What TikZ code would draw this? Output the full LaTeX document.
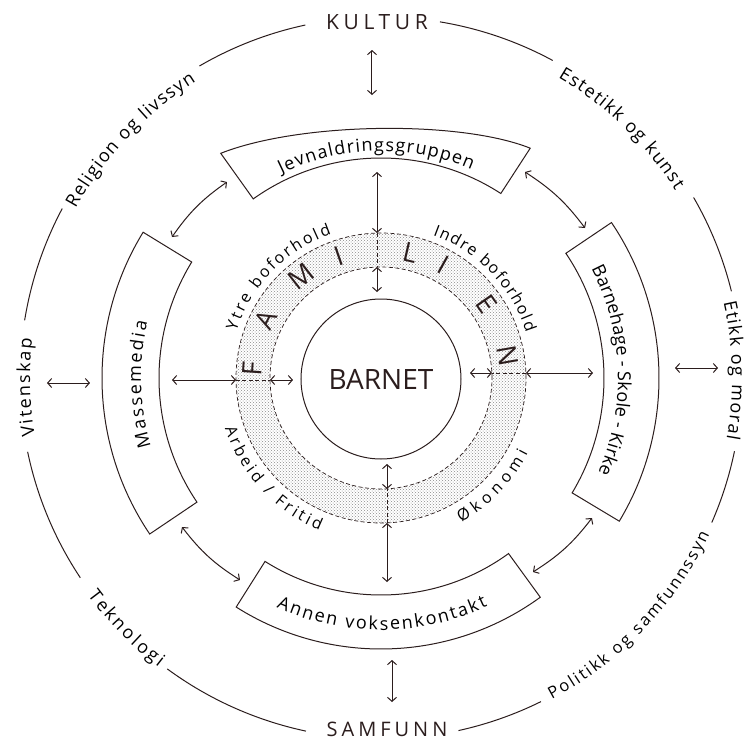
\documentclass[tikz,border=0pt]{standalone}
\usepackage{fontspec}
\setmainfont{Open Sans}
\usetikzlibrary{arrows.meta}
\usetikzlibrary{patterns}
\usetikzlibrary{decorations.text}
\definecolor{blekk}{HTML}{2B1D1D}
\definecolor{prikk}{HTML}{8A8A8A}
\newcommand{\ytrefont}{\fontsize{18}{21}\selectfont}
\newcommand{\boksfont}{\fontsize{18}{21}\selectfont}
\newcommand{\ringfont}{\fontsize{16}{19}\selectfont}
\newcommand{\buetekst}[5]{% radius, fra, til, skrift, tekst
  \path[decorate,decoration={text along path,text align=fit to path,text={|#4|#5}}]
    (#2:#1pt) arc[start angle=#2,end angle=#3,radius=#1pt];}

\begin{document}
\begin{tikzpicture}[x=1pt,y=1pt,line width=1pt,color=blekk,
    pil/.style={<->,>={Straight Barb[length=4pt,width=9pt]}},
    ring/.style={dashed,line width=0.7pt,dash pattern=on 4pt off 2.5pt}]
  \useasboundingbox (-381,-362) rectangle (374,378);

  % ytre sirkel, brutt ved tekstene
  \foreach \a/\b in {61.6/80.6, 13.9/30, -23.6/-11.7, 282.4/296.3, 233.7/258, 191.8/213.6, 152/170.8, 102.1/120.2}
  {
    \draw (\a:361pt) arc[start angle=\a,end angle=\b,radius=361pt];
  }
  \node[font=\fontsize{21}{21}\selectfont\addfontfeature{LetterSpace=22}] (kultur) at (-4,356) {KULTUR};
  \node[font=\fontsize{20}{20}\selectfont\addfontfeature{LetterSpace=20}] (samfunn) at (6,-351) {SAMFUNN};
  \buetekst{349}{151}{122}{\ytrefont}{Religion og livssyn}
  \buetekst{349}{59.5}{32.5}{\ytrefont}{Estetikk og kunst}
  \buetekst{351}{12.5}{-10}{\ytrefont}{Etikk og moral}
  \buetekst{351}{189.5}{173.5}{\ytrefont}{Vitenskap}
  \buetekst{365}{216.5}{232.5}{\ytrefont}{Teknologi}
  \buetekst{364}{298}{334.5}{\fontsize{16.5}{20}\selectfont}{Politikk og samfunnssyn}

  % boksene i midtringen
  \foreach \a/\b/\ri/\ro in {148.5/214/222/279, -31/34/223/278, 237.7/306/217/271}
  {
    \draw (\a:\ri pt) arc[start angle=\a,end angle=\b,radius=\ri pt] -- (\b:\ro pt)
      arc[start angle=\b,end angle=\a,radius=\ro pt] -- cycle;
  }
  \draw (125.5:220pt) arc[start angle=125.5,end angle=57,radius=220pt] -- (57:274pt)
    .. controls (79,258) and (-81,256) .. (125.5:276pt) -- cycle;  % Jevnaldringsgruppen
  \buetekst{227}{116}{66.5}{\boksfont}{Jevnaldringsgruppen}
  \buetekst{240}{196.5}{166.5}{\boksfont}{Massemedia}
  \buetekst{237}{27.5}{-23.5}{\boksfont}{Barnehage - Skole - Kirke}
  \buetekst{252}{245.5}{295}{\boksfont}{Annen voksenkontakt}

  % familien
  \fill[pattern=crosshatch dots,pattern color=prikk,even odd rule]
    (0,0) circle[radius=145pt] (0,0) circle[radius=111pt];
  \draw[ring] (0,0) circle[radius=145pt];
  \draw[ring] (0,0) circle[radius=111pt];
  \foreach \bokstav/\v in {F/176,A/153,M/128,I/109,L/77,I/61,E/35,N/10}
  {
    \node[rotate=\v-90,font=\fontsize{27}{27}\selectfont] (fam-\v) at (\v:129pt) {\bokstav};
  }
  \buetekst{152}{162}{109}{\ringfont}{Ytre boforhold}
  \buetekst{152}{70}{17.5}{\ringfont}{Indre boforhold}
  \buetekst{164}{198}{248}{\ringfont}{Arbeid / Fritid}
  \buetekst{165}{299}{333}{\ringfont}{Økonomi}

  \node[circle,draw,minimum size=160pt,inner sep=0pt,font=\fontsize{28}{28}\selectfont] (barnet) at (0,-1) {BARNET};

  % endepunkter for pilene
  \coordinate (kultur-s) at (-9,328);
  \coordinate (jev-n) at (-9,283);
  \coordinate (jev-s) at (-4,206);
  \coordinate (ring-n) at (-4,145);
  \coordinate (ringinn-n) at (-4,111);
  \coordinate (barnet-n) at (-4,86);
  \coordinate (annen-n) at (6,-204);
  \coordinate (ring-s) at (6,-145);
  \coordinate (ringinn-s) at (6,-111);
  \coordinate (barnet-s) at (6,-86);
  \coordinate (annen-s) at (11,-282);
  \coordinate (samfunn-n) at (11,-324);
  \coordinate (masse-o) at (-209,-2);
  \coordinate (ring-v) at (-145,-2);
  \coordinate (ringinn-v) at (-111,-2);
  \coordinate (barnet-v) at (-88,-2);
  \coordinate (viten-o) at (-334,-5);
  \coordinate (masse-v) at (-291,-5);
  \coordinate (ring-h) at (145,5);
  \coordinate (barne-v) at (212,5);
  \coordinate (ringinn-h) at (111,5);
  \coordinate (barnet-h) at (89,5);
  \coordinate (barne-h) at (294,10);
  \coordinate (etikk-v) at (337,10);
  \coordinate (masse-no) at (-209,141);
  \coordinate (jev-sv) at (-154,196);
  \coordinate (jev-so) at (144,206);
  \coordinate (barne-nv) at (204,150);
  \coordinate (barne-sv) at (211,-140);
  \coordinate (annen-no) at (152,-194);
  \coordinate (annen-nv) at (-141,-202);
  \coordinate (masse-so) at (-199,-149);

  % piler
  \foreach \fra/\til in {kultur-s/jev-n, jev-s/ring-n, ringinn-n/barnet-n, annen-n/ring-s, ringinn-s/barnet-s,
    annen-s/samfunn-n, masse-o/ring-v, ringinn-v/barnet-v, viten-o/masse-v, ring-h/barne-v,
    ringinn-h/barnet-h, barne-h/etikk-v}
  {
    \draw[pil] (\fra) -- (\til);
  }
  \foreach \fra/\til in {ring-n/ringinn-n, ring-s/ringinn-s, ring-v/ringinn-v, ring-h/ringinn-h}
  {
    \draw[ring] (\fra) -- (\til);  % stiplet gjennom ringen
  }
  \foreach \fra/\til in {masse-no/jev-sv, jev-so/barne-nv, barne-sv/annen-no, annen-nv/masse-so}
  {
    \draw[pil] (\fra) to[bend left=10] (\til);
  }
\end{tikzpicture}
\end{document}
